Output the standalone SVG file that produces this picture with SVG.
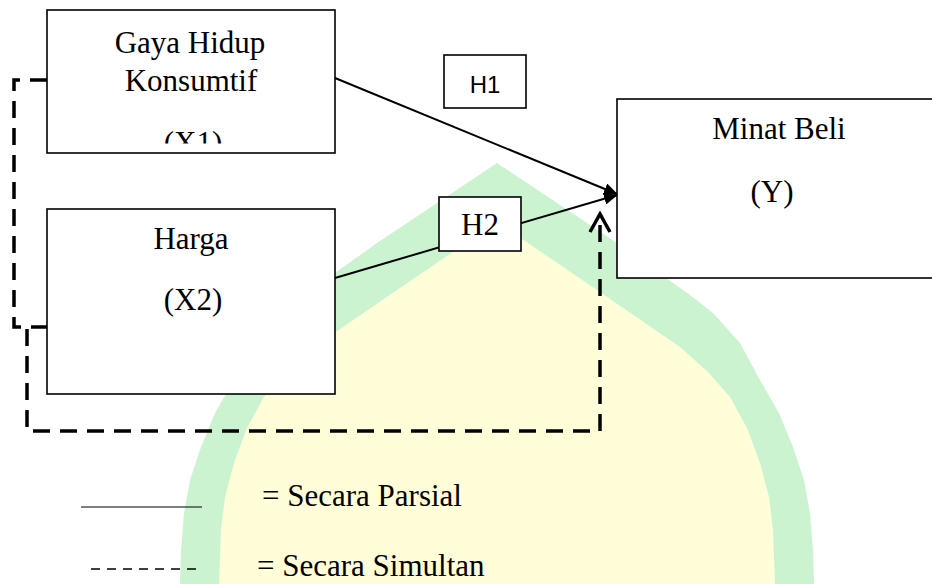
<svg xmlns="http://www.w3.org/2000/svg" width="932" height="584" viewBox="0 0 932 584">
<style>
.box{fill:#fff;stroke:#000;stroke-width:1.6}
.t{font-family:"Liberation Serif","Times New Roman",serif;font-size:31px;fill:#000;text-anchor:middle}
.lg{font-family:"Liberation Serif","Times New Roman",serif;font-size:31px;fill:#000}
.s{font-family:"Liberation Sans",Arial,sans-serif;font-size:24px;fill:#000;text-anchor:middle}
.solid{fill:none;stroke:#000;stroke-width:2}
.dash{fill:none;stroke:#000;stroke-width:3.5;stroke-dasharray:17 10}
</style>
<defs>
<marker id="ah" markerUnits="userSpaceOnUse" markerWidth="14" markerHeight="12" refX="13" refY="6" orient="auto" viewBox="0 0 14 12">
<path d="M0,0 L14,6 L0,12 z" fill="#000"/>
</marker>
<marker id="ch" markerUnits="userSpaceOnUse" markerWidth="22" markerHeight="24" refX="19" refY="12" orient="auto" viewBox="0 0 22 24">
<path d="M1,2 L19,12 L1,22" fill="none" stroke="#000" stroke-width="3.5"/>
</marker>
<clipPath id="cx1"><rect x="47" y="10" width="288" height="133.5"/></clipPath>
</defs>
<g id="watermark">
<path fill="#ccf3d0" d="M497,163 L617,243 L690,295 L713,313 L740,343 L760,380 L779,413 L793,447 L804,480 L810,513 L813,550 L814,584 L180,584 L181,550 L184,513 L190,480 L201,447 L215,413 L234,380 L254,343 L281,313 L304,295 L377,243 Z"/>
<path fill="#fffed8" d="M497,222 L597,290 L680,347 L708,372 L730,397 L747,428 L760,463 L769,497 L773,530 L775,584 L219,584 L221,530 L225,497 L234,463 L247,428 L264,397 L286,372 L314,347 L397,290 Z"/>
</g>
<g id="connectors">
<line class="solid" x1="335" y1="78" x2="617" y2="194" marker-end="url(#ah)"/>
<line class="solid" x1="335" y1="278" x2="617" y2="195" marker-end="url(#ah)"/>
<path class="dash" d="M47,80 H14 V327 H47"/>
<path class="dash" d="M27,329 V431 H600 V214" marker-end="url(#ch)"/>
</g>
<g id="node-x1">
<rect class="box" x="47" y="10" width="288" height="143"/>
<text class="t" x="190" y="53">Gaya Hidup</text>
<text class="t" x="191" y="91">Konsumtif</text>
<text class="t" x="193" y="153" clip-path="url(#cx1)">(X1)</text>
</g>
<g id="node-x2">
<rect class="box" x="47" y="209" width="288" height="185"/>
<text class="t" x="191" y="249">Harga</text>
<text class="t" x="193" y="310">(X2)</text>
</g>
<g id="node-y">
<rect class="box" x="617" y="99" width="330" height="179"/>
<text class="t" x="779" y="139">Minat Beli</text>
<text class="t" x="772" y="202">(Y)</text>
</g>
<g id="label-h1">
<rect class="box" x="444" y="55" width="82" height="53"/>
<text class="s" x="485" y="93">H1</text>
</g>
<g id="label-h2">
<rect class="box" x="439" y="197" width="82" height="54"/>
<text class="t" x="480" y="235">H2</text>
</g>
<g id="legend">
<line x1="81" y1="507" x2="202" y2="507" stroke="#000" stroke-width="1.2"/>
<text class="lg" x="262" y="506">= Secara Parsial</text>
<line x1="91" y1="569" x2="197" y2="569" stroke="#000" stroke-width="1.6" stroke-dasharray="9 7"/>
<text class="lg" x="257" y="576">= Secara Simultan</text>
</g>
</svg>
